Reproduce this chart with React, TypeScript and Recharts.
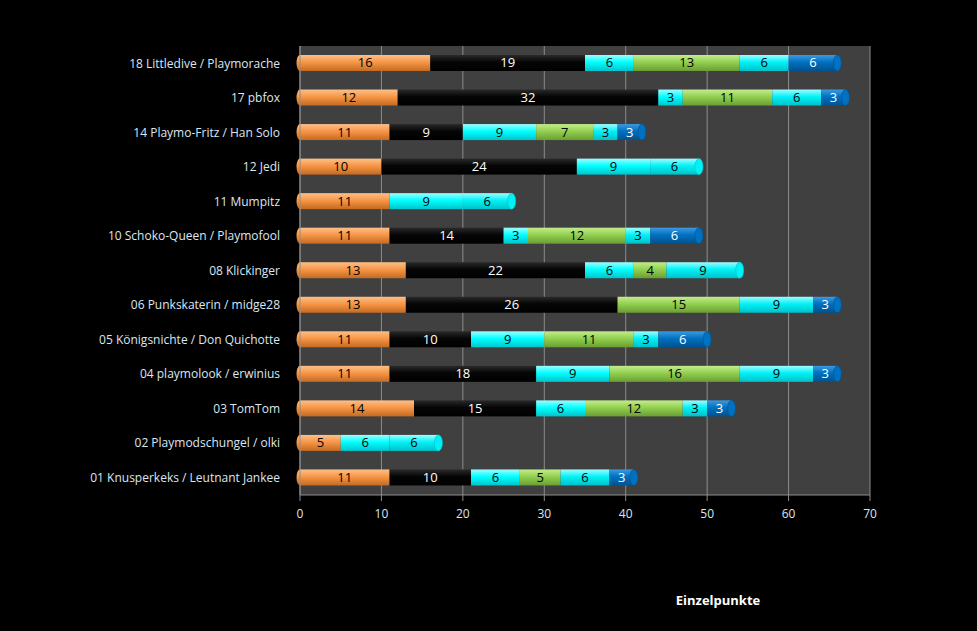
import React from "react";
import { Bar, BarChart, CartesianGrid, LabelList, XAxis, YAxis } from "recharts";

const names = [
  "18 Littledive / Playmorache",
  "17 pbfox",
  "14 Playmo-Fritz / Han Solo",
  "12 Jedi",
  "11 Mumpitz",
  "10 Schoko-Queen / Playmofool",
  "08 Klickinger",
  "06 Punkskaterin / midge28",
  "05 Königsnichte / Don Quichotte",
  "04 playmolook / erwinius",
  "03 TomTom",
  "02 Playmodschungel / olki",
  "01 Knusperkeks / Leutnant Jankee",
];

// segments from left to right
const s1 = [16, 12, 11, 10, 11, 11, 13, 13, 11, 11, 14, 5, 11];
const s2 = [19, 32, 9, 24, 0, 14, 22, 26, 10, 18, 15, 0, 10];
const s3 = [6, 3, 9, 9, 9, 3, 6, 0, 9, 9, 6, 6, 6];
const s4 = [13, 11, 7, 0, 0, 12, 4, 15, 11, 16, 12, 0, 5];
const s5 = [6, 6, 3, 6, 6, 3, 9, 9, 3, 9, 3, 6, 6];
const s6 = [6, 3, 3, 0, 0, 6, 0, 3, 6, 3, 3, 0, 3];

const xTicks = [0, 10, 20, 30, 40, 50, 60, 70];

const SERIES = [
  { key: "s1", top: "#fcc08a", mid: "#f79646", bot: "#c46a22", text: "#000" },
  { key: "s2", top: "#2a2a2a", mid: "#050505", bot: "#000000", text: "#fff" },
  { key: "s3", top: "#9ffcff", mid: "#00ffff", bot: "#00c4cc", text: "#000" },
  { key: "s4", top: "#c4ec8c", mid: "#92d050", bot: "#6a9e32", text: "#000" },
  { key: "s5", top: "#9ffcff", mid: "#00f2f6", bot: "#00c0c8", text: "#000" },
  { key: "s6", top: "#3d9ae0", mid: "#0070c0", bot: "#00528e", text: "#fff" },
];

const data = names.map((name, i) => ({
  name,
  s1: s1[i],
  s2: s2[i],
  s3: s3[i],
  s4: s4[i],
  s5: s5[i],
  s6: s6[i],
}));

const FONT = "'Open Sans', 'Noto Sans', sans-serif";

const makeShape = (si: number) => (props: any) => {
  const { x, y, width, height, payload } = props;
  if (!width || width <= 0) return <g />;
  let last = -1;
  SERIES.forEach((s, i) => {
    if (payload[s.key] > 0) last = i;
  });
  const c = SERIES[si];
  const cy = y + height / 2;
  return (
    <g>
      <rect x={x} y={y} width={width} height={height} fill={`url(#grad${si})`} />
      {si === 0 ? <ellipse cx={x} cy={cy} rx={3.5} ry={height / 2} fill={`url(#grad${si})`} /> : null}
      {si === last ? (
        <ellipse cx={x + width} cy={cy} rx={4} ry={height / 2} fill={c.mid} stroke={c.bot} strokeWidth={0.6} />
      ) : null}
    </g>
  );
};

const makeLabel = (si: number) => (props: any) => {
  const { x, y, width, height, value } = props;
  if (!value) return null;
  return (
    <text
      x={x + width / 2}
      y={y + height / 2 + 1}
      textAnchor="middle"
      dominantBaseline="middle"
      fontSize={13}
      fontFamily={FONT}
      fill={SERIES[si].text}
    >
      {value}
    </text>
  );
};

export default function App() {
  return (
    <div style={{ position: "fixed", left: 0, top: 0, width: 977, height: 631, background: "#000" }}>
      <BarChart
        width={977}
        height={631}
        data={data}
        layout="vertical"
        margin={{ top: 46, right: 107, bottom: 22, left: 0 }}
        barSize={16}
      >
        <defs>
          {SERIES.map((s, i) => (
            <linearGradient key={s.key} id={`grad${i}`} x1="0" y1="0" x2="0" y2="1">
              <stop offset="0%" stopColor={s.top} />
              <stop offset="45%" stopColor={s.mid} />
              <stop offset="100%" stopColor={s.bot} />
            </linearGradient>
          ))}
        </defs>
        <CartesianGrid horizontal={false} fill="#404040" stroke="#8c8c8c" />
        <XAxis
          type="number"
          domain={[0, 70]}
          ticks={xTicks}
          height={114}
          tick={{ fontSize: 12, fill: "#dce6f2", fontFamily: FONT }}
          tickLine={{ stroke: "#8c8c8c" }}
          axisLine={{ stroke: "#8c8c8c" }}
          tickMargin={8}
          label={{
            value: "Einzelpunkte",
            position: "insideBottom",
            dx: 133,
            offset: 4,
            fill: "#ffffff",
            fontSize: 13,
            fontWeight: 700,
            fontFamily: FONT,
          }}
        />
        <YAxis
          type="category"
          dataKey="name"
          width={300}
          tick={{ fontSize: 12, fill: "#dce6f2", fontFamily: FONT }}
          tickLine={false}
          axisLine={{ stroke: "#8c8c8c" }}
          tickMargin={14}
          interval={0}
        />
        {SERIES.map((s, i) => (
          <Bar key={s.key} dataKey={s.key} stackId="a" shape={makeShape(i)} isAnimationActive={false}>
            <LabelList dataKey={s.key} content={makeLabel(i)} />
          </Bar>
        ))}
      </BarChart>
    </div>
  );
}
